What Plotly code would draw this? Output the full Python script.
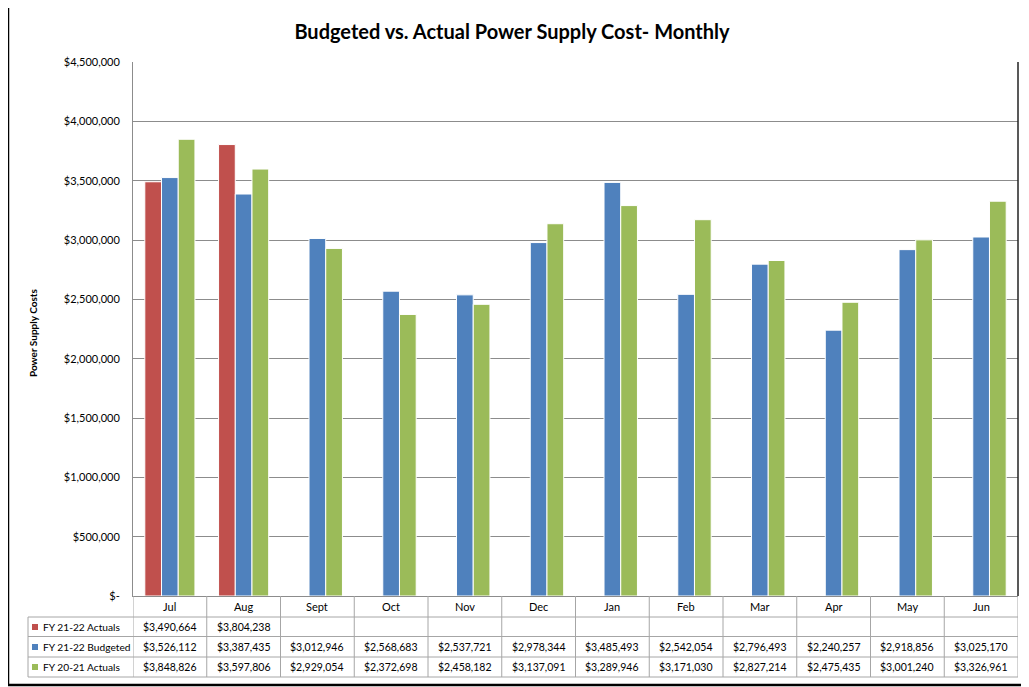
import plotly.graph_objects as go

months = ["Jul", "Aug", "Sept", "Oct", "Nov", "Dec", "Jan", "Feb", "Mar", "Apr", "May", "Jun"]
fy2122_actuals = [3490664, 3804238, None, None, None, None, None, None, None, None, None, None]
fy2122_budgeted = [3526112, 3387435, 3012946, 2568683, 2537721, 2978344, 3485493, 2542054, 2796493, 2240257, 2918856, 3025170]
fy2021_actuals = [3848826, 3597806, 2929054, 2372698, 2458182, 3137091, 3289946, 3171030, 2827214, 2475435, 3001240, 3326961]
series_names = ["FY 21-22 Actuals", "FY 21-22 Budgeted", "FY 20-21 Actuals"]
series_colors = ["#C0504D", "#4F81BD", "#9BBB59"]
ytick_vals = [0, 500000, 1000000, 1500000, 2000000, 2500000, 3000000, 3500000, 4000000, 4500000]
ytick_text = ["$-", "$500,000", "$1,000,000", "$1,500,000", "$2,000,000", "$2,500,000",
              "$3,000,000", "$3,500,000", "$4,000,000", "$4,500,000"]

# the page body adds an 8px offset; work in reference pixel coords and subtract it
OFF = 8
W, H = 1029 - OFF, 687 - OFF
L, R_px, T, B_px = 133, 1018, 62, 596
pw, ph = R_px - L, B_px - T
FONT = "Lato"
GRID = "#8c8c8c"
TBL = "#a6a6a6"

def px_x(p):
    return (p - L) / pw

def px_y(p):
    return (B_px - p) / ph

series = [fy2122_actuals, fy2122_budgeted, fy2021_actuals]
idx = list(range(len(months)))

fig = go.Figure()
for name, vals, col in zip(series_names, series, series_colors):
    fig.add_trace(go.Bar(x=idx, y=vals, name=name, marker=dict(color=col, line=dict(color="white", width=1)),
                         showlegend=False))

shapes = []
annotations = []

row_lines = [617, 636.5, 657, 677]
row_centers = [606.5, 627, 647, 667]

for yl in row_lines:
    shapes.append(dict(type="line", xref="paper", yref="paper", x0=px_x(28), x1=px_x(R_px),
                       y0=px_y(yl), y1=px_y(yl), line=dict(color=TBL, width=1)))
shapes.append(dict(type="line", xref="paper", yref="paper", x0=px_x(28), x1=px_x(28),
                   y0=px_y(617), y1=px_y(677), line=dict(color=TBL, width=1)))
for i in range(len(months) + 1):
    shapes.append(dict(type="line", xref="x", yref="paper", x0=i - 0.5, x1=i - 0.5,
                       y0=0, y1=px_y(677), line=dict(color=TBL, width=1)))
shapes.append(dict(type="line", xref="paper", yref="paper", x0=1, x1=1, y0=0, y1=1,
                   line=dict(color="#222222", width=1.5)))
shapes.append(dict(type="rect", xref="paper", yref="paper", x0=px_x(8), x1=px_x(1040),
                   y0=px_y(685), y1=px_y(6), line=dict(color="black", width=2.5)))

for i, m in enumerate(months):
    annotations.append(dict(x=i, y=px_y(row_centers[0]), xref="x", yref="paper", text=m,
                            xanchor="center", yanchor="middle",
                            showarrow=False, font=dict(family=FONT, size=11, color="black")))

for r, (name, vals, col) in enumerate(zip(series_names, series, series_colors)):
    yc = px_y(row_centers[r + 1])
    shapes.append(dict(type="rect", xref="paper", yref="paper", x0=px_x(32), x1=px_x(38),
                       y0=px_y(row_centers[r + 1] + 3), y1=px_y(row_centers[r + 1] - 3),
                       fillcolor=col, line=dict(width=0)))
    annotations.append(dict(x=px_x(41), y=yc, xref="paper", yref="paper", text=name,
                            xanchor="left", yanchor="middle",
                            showarrow=False, font=dict(family=FONT, size=10.2, color="black")))
    for i, v in enumerate(vals):
        if v is None:
            continue
        annotations.append(dict(x=i, y=yc, xref="x", yref="paper", text=f"${v:,.0f}",
                                xanchor="center", yanchor="middle",
                                showarrow=False, font=dict(family=FONT, size=10.5, color="black")))

annotations.append(dict(x=px_x(33), y=px_y(333), xref="paper", yref="paper", text="<b>Power Supply Costs</b>",
                        xanchor="center", yanchor="middle",
                        textangle=-90, showarrow=False, font=dict(family=FONT, size=10, color="black")))

fig.update_layout(
    width=W, height=H,
    margin=dict(l=L - OFF, r=1029 - R_px, t=T - OFF, b=687 - B_px, autoexpand=False),
    paper_bgcolor="white", plot_bgcolor="white",
    barmode="group", bargap=0.32, bargroupgap=0,
    title=dict(text="<b>Budgeted vs. Actual Power Supply Cost- Monthly</b>", x=(512 - OFF) / W, xref="container",
               xanchor="center", y=1 - (32 - OFF) / H, yref="container", yanchor="middle",
               font=dict(family=FONT, size=20, color="black")),
    xaxis=dict(range=[-0.5, len(months) - 0.5], showticklabels=False, ticks="", showgrid=False,
               showline=True, linecolor=GRID, linewidth=1, zeroline=False, fixedrange=True),
    yaxis=dict(range=[0, 4500000], tickvals=ytick_vals, ticktext=ytick_text, showgrid=True,
               gridcolor=GRID, gridwidth=1, showline=True, linecolor=GRID, linewidth=1,
               zeroline=False, ticks="", ticklabelstandoff=10,
               tickfont=dict(family=FONT, size=11, color="black")),
    shapes=shapes, annotations=annotations,
    font=dict(family=FONT),
)

fig.write_html("out.html")
